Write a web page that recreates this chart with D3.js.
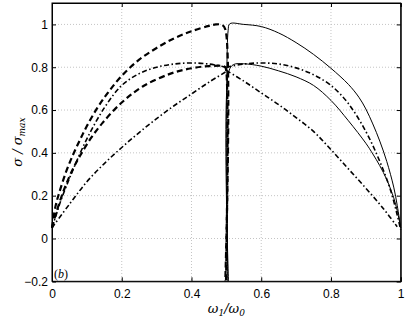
<!DOCTYPE html>
<html>
<head>
<meta charset="utf-8">
<script src="https://cdn.jsdelivr.net/npm/d3@7"></script>
<style>
  body { margin: 0; background: #fff; }
  svg { display: block; }
  .tick text { font-family: "Liberation Sans", Arial, sans-serif; font-size: 12px; fill: #000; }
</style>
</head>
<body>
<svg id="chart" width="407" height="319"></svg>
<script>
// tick values
var xTicks = [0, 0.2, 0.4, 0.6, 0.8, 1];
var yTicks = [-0.2, 0, 0.2, 0.4, 0.6, 0.8, 1];

// left half, dashed (upper) and its vertical drop at 0.5
var dashHiX = [0, 0.01, 0.02, 0.04, 0.06, 0.08, 0.1, 0.13, 0.16, 0.2, 0.25, 0.3, 0.35, 0.4, 0.45, 0.47, 0.487, 0.497, 0.497];
var dashHiY = [0.05, 0.15, 0.21, 0.31, 0.39, 0.46, 0.525, 0.61, 0.68, 0.76, 0.835, 0.89, 0.935, 0.968, 0.993, 1.0, 0.998, 0.977, -0.2];
// left half, dashed (lower)
var dashLoX = [0, 0.012, 0.035, 0.06, 0.08, 0.11, 0.145, 0.2, 0.26, 0.34, 0.4, 0.45, 0.495, 0.499, 0.499];
var dashLoY = [0.05, 0.12, 0.23, 0.325, 0.385, 0.465, 0.54, 0.635, 0.71, 0.77, 0.795, 0.805, 0.803, 0.79, -0.2];
// left half, dash-dot (upper)
var ddHiLX = [0, 0.012, 0.026, 0.06, 0.1, 0.15, 0.2, 0.25, 0.3, 0.35, 0.4, 0.45, 0.5];
var ddHiLY = [0.05, 0.11, 0.18, 0.32, 0.465, 0.61, 0.715, 0.77, 0.8, 0.815, 0.82, 0.815, 0.80];
// left half, dash-dot (lower)
var ddLoLX = [0, 0.05, 0.1, 0.15, 0.2, 0.25, 0.3, 0.35, 0.4, 0.45, 0.5];
var ddLoLY = [0.05, 0.16, 0.265, 0.35, 0.425, 0.495, 0.56, 0.62, 0.675, 0.73, 0.78];

// right half, solid (upper) rising from the bottom at 0.5
var solHiX = [0.504, 0.505, 0.51, 0.55, 0.6, 0.65, 0.7, 0.75, 0.8, 0.85, 0.88, 0.9, 0.92, 0.94, 0.96, 0.98, 0.99, 1.0];
var solHiY = [-0.2, 0.97, 1.003, 1.0, 0.99, 0.96, 0.915, 0.86, 0.795, 0.72, 0.66, 0.605, 0.535, 0.455, 0.36, 0.24, 0.155, 0.05];
// right half, solid (lower)
var solLoX = [0.506, 0.507, 0.52, 0.55, 0.6, 0.65, 0.7, 0.75, 0.8, 0.85, 0.9, 0.92, 0.94, 0.96, 0.98, 0.99, 1.0];
var solLoY = [-0.2, 0.78, 0.812, 0.816, 0.805, 0.783, 0.755, 0.715, 0.645, 0.55, 0.445, 0.395, 0.34, 0.275, 0.19, 0.13, 0.05];
// right half, dash-dot (upper)
var ddHiRX = [0.5, 0.55, 0.6, 0.65, 0.7, 0.75, 0.8, 0.85, 0.9, 0.94, 0.97, 0.99, 1.0];
var ddHiRY = [0.80, 0.815, 0.82, 0.815, 0.797, 0.765, 0.715, 0.63, 0.5, 0.36, 0.23, 0.11, 0.04];
// right half, dash-dot (lower)
var ddLoRX = [0.5, 0.55, 0.6, 0.65, 0.7, 0.75, 0.8, 0.85, 0.9, 0.95, 0.99];
var ddLoRY = [0.785, 0.735, 0.68, 0.625, 0.565, 0.5, 0.415, 0.325, 0.235, 0.14, 0.055];

var dashed = "6,3.5";
var dashDot = "5,2.5,1.5,2.5";

var series = [
  { x: dashHiX, y: dashHiY, dash: dashed, w: 2.2 },
  { x: dashLoX, y: dashLoY, dash: dashed, w: 2.2 },
  { x: ddHiLX, y: ddHiLY, dash: dashDot, w: 1.6 },
  { x: ddLoLX, y: ddLoLY, dash: dashDot, w: 1.6 },
  { x: solHiX, y: solHiY, dash: null, w: 1 },
  { x: solLoX, y: solLoY, dash: null, w: 1 },
  { x: ddHiRX, y: ddHiRY, dash: dashDot, w: 1.6 },
  { x: ddLoRX, y: ddLoRY, dash: dashDot, w: 1.6 }
];

var svg = d3.select("#chart");
var margin = { top: 3, right: 6.3, bottom: 37.7, left: 52 };
var width = 407 - margin.left - margin.right;
var height = 319 - margin.top - margin.bottom;

var g = svg.append("g")
  .attr("transform", "translate(" + margin.left + "," + margin.top + ")");

var x = d3.scaleLinear().domain([0, 1]).range([0, width]);
var y = d3.scaleLinear().domain([-0.2, 1.1]).range([height, 0]);

// grid
g.append("g")
  .selectAll("line")
  .data(xTicks.filter(function(d) { return d > 0 && d < 1; }))
  .enter().append("line")
  .attr("x1", function(d) { return x(d); })
  .attr("x2", function(d) { return x(d); })
  .attr("y1", 0).attr("y2", height)
  .style("stroke", "#c4c4c4").style("stroke-dasharray", "1,2").style("stroke-width", 1);
g.append("g")
  .selectAll("line")
  .data(yTicks.filter(function(d) { return d > -0.2; }))
  .enter().append("line")
  .attr("y1", function(d) { return y(d); })
  .attr("y2", function(d) { return y(d); })
  .attr("x1", 0).attr("x2", width)
  .style("stroke", "#c4c4c4").style("stroke-dasharray", "1,2").style("stroke-width", 1);

// curves
var line = d3.line()
  .x(function(d) { return x(d[0]); })
  .y(function(d) { return y(d[1]); })
  .curve(d3.curveCatmullRom.alpha(0.5));

series.forEach(function(s) {
  var pts = s.x.map(function(v, i) { return [v, s.y[i]]; });
  g.append("path")
    .datum(pts)
    .attr("d", line)
    .style("fill", "none")
    .style("stroke", "#000")
    .style("stroke-width", s.w)
    .style("stroke-dasharray", s.dash);
});

// axes, ticks inward
var fmt = function(d) { return d < 0 ? "\u2212" + Math.abs(d) : String(d); };
g.append("g")
  .attr("transform", "translate(0," + height + ")")
  .call(d3.axisBottom(x).tickValues(xTicks).tickSize(-4).tickPadding(8).tickFormat(fmt));
g.append("g")
  .call(d3.axisLeft(y).tickValues(yTicks).tickSize(-4).tickPadding(4).tickFormat(fmt));
g.append("g")
  .call(d3.axisTop(x).tickValues(xTicks).tickSize(-4).tickFormat(""));
g.append("g")
  .attr("transform", "translate(" + width + ",0)")
  .call(d3.axisRight(y).tickValues(yTicks).tickSize(-4).tickFormat(""));
g.selectAll(".domain").style("stroke", "#000");
g.selectAll(".tick line").style("stroke", "#000");

// frame
g.append("rect")
  .attr("width", width).attr("height", height)
  .style("fill", "none").style("stroke", "#000").style("stroke-width", 1);

// labels
svg.append("text")
  .attr("transform", "translate(22," + (margin.top + y(0.45)) + ") rotate(-90)")
  .attr("text-anchor", "middle")
  .style("font-family", "'DejaVu Serif', 'Liberation Serif', serif")
  .style("font-style", "italic")
  .style("font-size", "13px")
  .html("&#963; / &#963;<tspan font-size='9px' dy='3'>max</tspan>");

svg.append("text")
  .attr("x", margin.left + x(0.5))
  .attr("y", 313)
  .attr("text-anchor", "middle")
  .style("font-family", "'DejaVu Serif', 'Liberation Serif', serif")
  .style("font-style", "italic")
  .style("font-size", "13px")
  .html("&#969;<tspan font-size='9px' dy='3'>1</tspan><tspan dy='-3'>/&#969;</tspan><tspan font-size='9px' dy='3'>0</tspan>");

g.append("text")
  .attr("x", 2)
  .attr("y", height - 3)
  .style("font-family", "'Liberation Serif', serif")
  .style("font-size", "12px")
  .html("(<tspan font-style='italic'>b</tspan>)");
</script>
</body>
</html>
